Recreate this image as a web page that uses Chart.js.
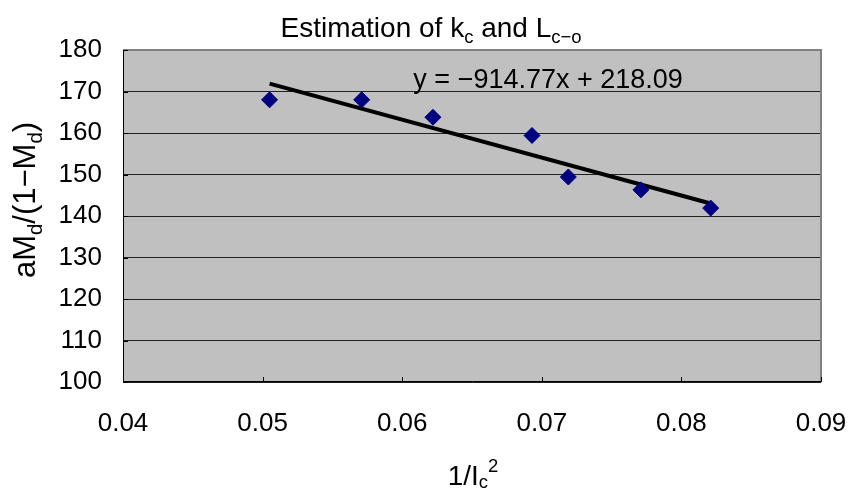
<!DOCTYPE html>
<html>
<head>
<meta charset="utf-8">
<script src="https://cdn.jsdelivr.net/npm/chart.js@4/dist/chart.umd.min.js"></script>
<style>
  html, body { margin: 0; padding: 0; background: #ffffff; }
  #wrap { width: 849px; height: 489px; }
</style>
</head>
<body>
<div id="wrap"><canvas id="c" width="849" height="489"></canvas></div>
<script>
// ---- data ----
const xValues = [0.0505, 0.0571, 0.0622, 0.0693, 0.0719, 0.0771, 0.0821];
const yValues = [168.0, 168.0, 163.8, 159.4, 149.4, 146.3, 141.9];
const trendX = [0.0505, 0.0821];
const trendY = [171.9, 143.0];
const xTickValues = [0.04, 0.05, 0.06, 0.07, 0.08, 0.09];
const yTickValues = [100, 110, 120, 130, 140, 150, 160, 170, 180];
const equationText = "y = \u2212914.77x + 218.09";
const titleParts = [["Estimation of k", "n"], ["c", "sub"], [" and L", "n"], ["c\u2212o", "sub"]];
const yTitleParts = [["aM", "n"], ["d", "sub"], ["/(1\u2212M", "n"], ["d", "sub"], [")", "n"]];
const xTitleParts = [["1/I", "n"], ["c", "sub"], ["2", "sup"]];

const FONT = "'Liberation Sans', Arial, sans-serif";

function drawRich(ctx, parts, x, y, align, size, subOff) {
  const small = size * 0.66;
  const so = subOff === undefined ? 0.22 : subOff;
  let total = 0;
  const widths = parts.map(([t, m]) => {
    ctx.font = (m === "n" ? size : small) + "px " + FONT;
    const w = ctx.measureText(t).width;
    total += w;
    return w;
  });
  let cx = align === "center" ? x - total / 2 : (align === "right" ? x - total : x);
  ctx.textAlign = "left";
  ctx.textBaseline = "alphabetic";
  parts.forEach(([t, m], i) => {
    ctx.font = (m === "n" ? size : small) + "px " + FONT;
    let dy = 0;
    if (m === "sub") dy = size * so;
    if (m === "sup") dy = -size * 0.45;
    ctx.fillText(t, cx, y + dy);
    cx += widths[i];
  });
}

const decor = {
  id: "decor",
  beforeDraw(chart) {
    const { ctx, chartArea: a } = chart;
    ctx.save();
    ctx.fillStyle = "#ffffff";
    ctx.fillRect(0, 0, chart.width, chart.height);
    ctx.fillStyle = "#C0C0C0";
    ctx.fillRect(a.left, a.top, a.right - a.left, a.bottom - a.top);
    ctx.restore();
  },
  afterDraw(chart) {
    const { ctx, chartArea: a, scales } = chart;
    ctx.save();
    // top & right border (gray)
    ctx.strokeStyle = "#808080";
    ctx.lineWidth = 2;
    ctx.beginPath();
    ctx.moveTo(a.left, a.top);
    ctx.lineTo(a.right, a.top);
    ctx.lineTo(a.right, a.bottom);
    ctx.stroke();
    // left & bottom border (dark)
    ctx.strokeStyle = "#000000";
    ctx.lineWidth = 1;
    ctx.beginPath();
    ctx.moveTo(a.left + 0.5, a.top);
    ctx.lineTo(a.left + 0.5, a.bottom - 0.5);
    ctx.lineTo(a.right, a.bottom - 0.5);
    ctx.stroke();
    // inner tick marks
    ctx.beginPath();
    xTickValues.forEach(v => {
      const px = Math.round(scales.x.getPixelForValue(v)) + 0.5;
      ctx.moveTo(px, a.bottom);
      ctx.lineTo(px, a.bottom - 5);
    });
    yTickValues.forEach(v => {
      const py = Math.round(scales.y.getPixelForValue(v)) + 0.5;
      ctx.moveTo(a.left, py);
      ctx.lineTo(a.left + 5, py);
    });
    ctx.stroke();

    ctx.fillStyle = "#000000";
    // title
    drawRich(ctx, titleParts, 431, 37, "center", 28, 0.2);
    // equation
    drawRich(ctx, [[equationText, "n"]], scales.x.getPixelForValue(0.0608), 88, "left", 27);
    // x title
    drawRich(ctx, xTitleParts, 473, 485, "center", 28, 0.1);
    // y title
    ctx.translate(35, 200);
    ctx.rotate(-Math.PI / 2);
    drawRich(ctx, yTitleParts, 0, 0, "center", 31);
    ctx.restore();
  }
};

new Chart(document.getElementById("c"), {
  type: "scatter",
  data: {
    datasets: [
      {
        type: "line",
        data: trendX.map((x, i) => ({ x: x, y: trendY[i] })),
        borderColor: "#000000",
        borderWidth: 4,
        pointRadius: 0,
        fill: false,
        order: 2
      },
      {
        data: xValues.map((x, i) => ({ x: x, y: yValues[i] })),
        pointStyle: "rectRot",
        pointRadius: 8,
        pointHoverRadius: 8,
        backgroundColor: "#000080",
        borderColor: "#000080",
        borderWidth: 1,
        order: 1
      }
    ]
  },
  options: {
    responsive: false,
    animation: false,
    devicePixelRatio: 1,
    layout: { padding: { left: 0, right: 28, top: 50, bottom: 0 } },
    plugins: { legend: { display: false }, title: { display: false }, tooltip: { enabled: false } },
    scales: {
      x: {
        type: "linear",
        min: 0.04, max: 0.09,
        afterFit(s) { s.height = 107; s.paddingLeft = 0; s.paddingRight = 0; },
        afterBuildTicks(s) { s.ticks = xTickValues.map(v => ({ value: v })); },
        grid: { display: false, drawTicks: false },
        border: { display: false },
        ticks: {
          padding: 26,
          color: "#000000",
          font: { family: FONT, size: 26 },
          maxRotation: 0,
          callback: v => Number(v).toFixed(2)
        }
      },
      y: {
        type: "linear",
        min: 100, max: 180,
        afterFit(s) { s.width = 123; s.paddingTop = 0; s.paddingBottom = 0; },
        afterBuildTicks(s) { s.ticks = yTickValues.map(v => ({ value: v })); },
        grid: {
          drawTicks: false,
          color: "#222222",
          lineWidth: 1
        },
        border: { display: false },
        ticks: {
          padding: 21,
          color: "#000000",
          font: { family: FONT, size: 26 },
          callback: v => String(v)
        }
      }
    }
  },
  plugins: [decor]
});
</script>
</body>
</html>
